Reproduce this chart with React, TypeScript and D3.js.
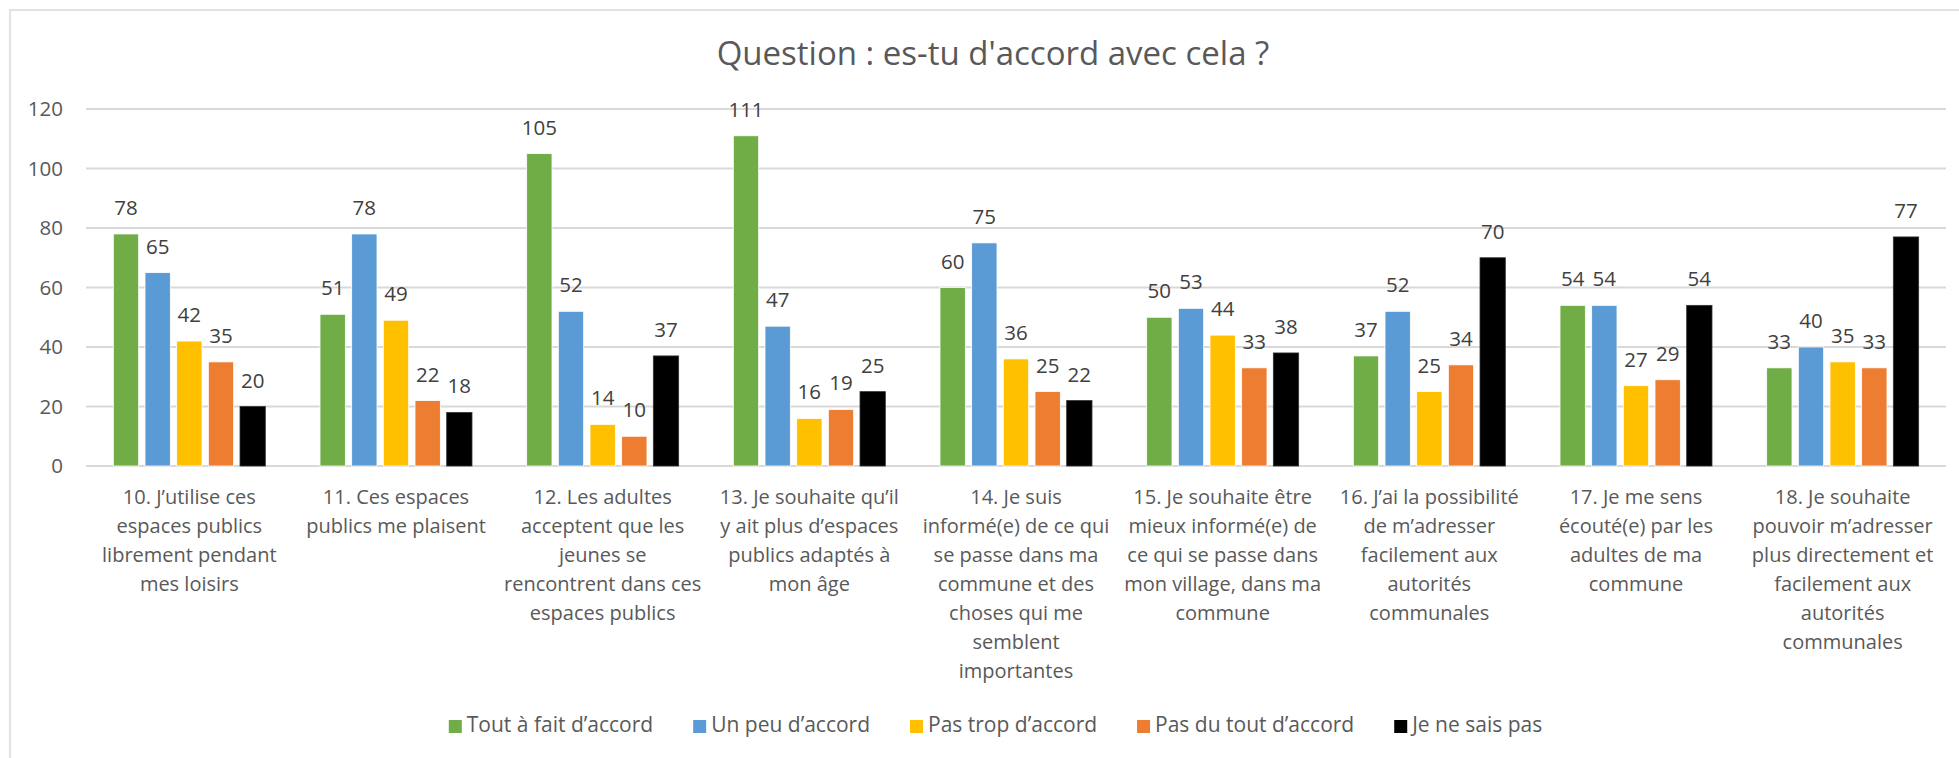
import * as d3 from "d3";
import { useEffect, useRef } from "react";

const categories = [
  ["10. J’utilise ces", "espaces publics", "librement pendant", "mes loisirs"],
  ["11. Ces espaces", "publics me plaisent"],
  ["12. Les adultes", "acceptent que les", "jeunes se", "rencontrent dans ces", "espaces publics"],
  ["13. Je souhaite qu’il", "y ait plus d’espaces", "publics adaptés à", "mon âge"],
  ["14. Je suis", "informé(e) de ce qui", "se passe dans ma", "commune et des", "choses qui me", "semblent", "importantes"],
  ["15. Je souhaite être", "mieux informé(e) de", "ce qui se passe dans", "mon village, dans ma", "commune"],
  ["16. J’ai la possibilité", "de m’adresser", "facilement aux", "autorités", "communales"],
  ["17. Je me sens", "écouté(e) par les", "adultes de ma", "commune"],
  ["18. Je souhaite", "pouvoir m’adresser", "plus directement et", "facilement aux", "autorités", "communales"],
];

const seriesNames = ["Tout à fait d’accord", "Un peu d’accord", "Pas trop d’accord", "Pas du tout d’accord", "Je ne sais pas"];
const seriesColors = ["#70AD47", "#5B9BD5", "#FFC000", "#ED7D31", "#000000"];

const toutAFait = [78, 51, 105, 111, 60, 50, 37, 54, 33];
const unPeu = [65, 78, 52, 47, 75, 53, 52, 54, 40];
const pasTrop = [42, 49, 14, 16, 36, 44, 25, 27, 35];
const pasDuTout = [35, 22, 10, 19, 25, 33, 34, 29, 33];
const neSaisPas = [20, 18, 37, 25, 22, 38, 70, 54, 77];

const yTicks = [0, 20, 40, 60, 80, 100, 120];
const title = "Question : es-tu d'accord avec cela ?";

const W = 1959, H = 758;
const FONT = "'Open Sans', sans-serif";

export default function App() {
  const ref = useRef<SVGSVGElement>(null);

  useEffect(() => {
    const svg = d3.select(ref.current);
    svg.selectAll("*").remove();

    const series = [toutAFait, unPeu, pasTrop, pasDuTout, neSaisPas];
    const left = 86, right = 1946, top = 109, bottom = 466;

    svg.append("rect")
      .attr("x", 10).attr("y", 10).attr("width", W).attr("height", H)
      .attr("fill", "#fff").attr("stroke", "#d9d9d9").attr("stroke-width", 1.5);

    svg.append("text")
      .attr("x", 993).attr("y", 65)
      .attr("text-anchor", "middle")
      .attr("font-family", FONT).attr("font-size", 33)
      .attr("fill", "#595959")
      .text(title);

    const y = d3.scaleLinear().domain([0, 120]).range([bottom, top]);
    const x0 = d3.scaleBand().domain(categories.map((_, i) => String(i))).range([left, right]).paddingInner(0).paddingOuter(0);
    const bw = x0.bandwidth();
    const groupW = 152;
    const x1 = d3.scaleBand().domain(seriesNames).range([(bw - groupW) / 2, (bw + groupW) / 2]).paddingInner(0.2).paddingOuter(0);

    // gridlines
    svg.append("g").selectAll("line").data(yTicks).enter().append("line")
      .attr("x1", left).attr("x2", right)
      .attr("y1", (d) => y(d)).attr("y2", (d) => y(d))
      .attr("stroke", "#d9d9d9").attr("stroke-width", 2);

    svg.append("g").selectAll("text").data(yTicks).enter().append("text")
      .attr("x", 63).attr("y", (d) => y(d))
      .attr("dy", "0.35em")
      .attr("text-anchor", "end")
      .attr("font-family", FONT).attr("font-size", 20.5)
      .attr("fill", "#595959")
      .text((d) => d);

    const groups = svg.append("g").selectAll("g").data(categories).enter().append("g")
      .attr("transform", (_, i) => `translate(${x0(String(i))},0)`);

    seriesNames.forEach((name, s) => {
      groups.append("rect")
        .attr("x", x1(name)!)
        .attr("width", x1.bandwidth())
        .attr("y", (_, i) => y(series[s][i]))
        .attr("height", (_, i) => bottom - y(series[s][i]))
        .attr("fill", seriesColors[s])
        .attr("stroke", s === 4 ? "#333" : "#fff").attr("stroke-width", 0.8);
      groups.append("text")
        .attr("x", x1(name)! + x1.bandwidth() / 2)
        .attr("y", (_, i) => y(series[s][i]) - 19)
        .attr("text-anchor", "middle")
        .attr("font-family", FONT).attr("font-size", 20.5)
        .attr("fill", "#404040")
        .text((_, i) => series[s][i]);
    });

    // category labels
    groups.append("text")
      .attr("text-anchor", "middle")
      .attr("font-family", FONT).attr("font-size", 20)
      .attr("fill", "#595959")
      .each(function (lines) {
        d3.select(this).selectAll("tspan").data(lines).enter().append("tspan")
          .attr("x", bw / 2)
          .attr("y", (_, j) => 504 + j * 29)
          .text((d) => d);
      });

    // legend
    const legend = svg.append("g");
    const items = seriesNames.map((name, s) => {
      const g = legend.append("g");
      g.append("rect").attr("width", 13).attr("height", 13).attr("y", -13).attr("fill", seriesColors[s]);
      const t = g.append("text").attr("x", 18).attr("y", -1)
        .attr("font-family", FONT).attr("font-size", 21)
        .attr("fill", "#595959").text(name);
      return { g, w: 18 + (t.node() as SVGTextElement).getComputedTextLength() };
    });
    const gap = 40;
    const total = d3.sum(items, (d) => d.w) + gap * (items.length - 1);
    let cx = 995.5 - total / 2;
    items.forEach((it) => {
      it.g.attr("transform", `translate(${cx},733)`);
      cx += it.w + gap;
    });
  }, []);

  return (
    <svg ref={ref} width={W} height={H} style={{ position: "absolute", left: 0, top: 0, display: "block" }} />
  );
}
